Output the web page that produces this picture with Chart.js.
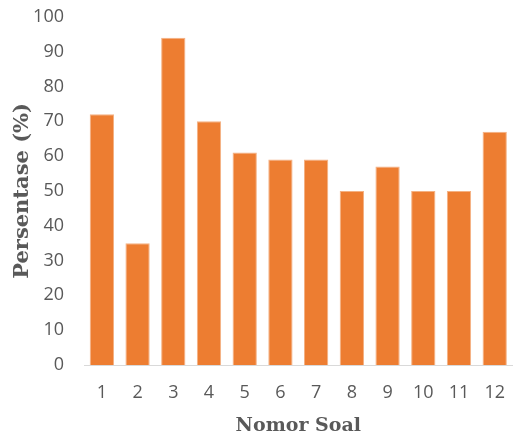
<!DOCTYPE html>
<html>
<head>
<meta charset="utf-8">
<script src="https://cdn.jsdelivr.net/npm/chart.js"></script>
<style>
  html, body { margin: 0; padding: 0; background: #fff; overflow: hidden; }
  #wrap { width: 522px; height: 452px; margin-top: -14px; position: relative; }
</style>
</head>
<body>
<div id="wrap"><canvas id="myChart"></canvas></div>
<script>
// data
var soal = ['1','2','3','4','5','6','7','8','9','10','11','12'];
var persentase = [72, 35, 94, 70, 61, 59, 59, 50, 57, 50, 50, 67];
var yMin = 0, yMax = 100, yStep = 10;

var grey = '#595959';
var tickFont = { family: 'Open Sans', size: 18 };

const ctx = document.getElementById('myChart').getContext('2d');
const myChart = new Chart(ctx, {
  type: 'bar',
  data: {
    labels: soal,
    datasets: [{
      label: 'Persentase',
      data: persentase,
      backgroundColor: '#ED7D31',
      borderColor: '#F4B183',
      borderWidth: 1,
      categoryPercentage: 1,
      barPercentage: 0.68
    }]
  },
  options: {
    maintainAspectRatio: false,
    animation: false,
    layout: { padding: { top: 4, right: 0, left: 0, bottom: 0 } },
    plugins: { legend: { display: false }, tooltip: { enabled: false } },
    scales: {
      x: {
        grid: { display: false, drawTicks: false },
        border: { color: '#D9D9D9', width: 1 },
        ticks: { color: grey, font: tickFont, padding: 17 },
        title: { display: true, text: 'Nomor Soal', color: grey, font: { family: 'DejaVu Serif', size: 19, weight: 'bold' }, padding: { top: 4, bottom: 1 } },
        afterFit: function (s) { s.height = 73; }
      },
      y: {
        min: yMin, max: yMax,
        grid: { display: false, drawTicks: false },
        border: { display: false },
        ticks: { stepSize: yStep, color: grey, font: tickFont, padding: 20 },
        title: { display: true, text: 'Persentase (%)', color: grey, font: { family: 'DejaVu Serif', size: 21, weight: 'bold' }, padding: { top: 10, bottom: 0 } },
        afterFit: function (s) { s.width = 84; }
      }
    }
  }
});
</script>
</body>
</html>
